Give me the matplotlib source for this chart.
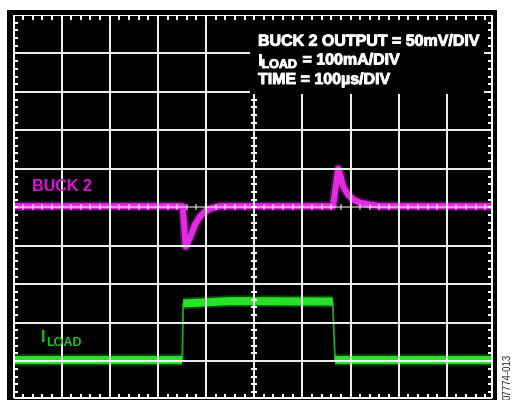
import matplotlib
matplotlib.use('Agg')
import matplotlib.pyplot as plt
from matplotlib.patches import Rectangle
from matplotlib.collections import LineCollection
from matplotlib.font_manager import FontProperties
import matplotlib.patheffects as pe
import numpy as np

# ---------------- data ----------------
# BUCK 2 output deviation (mV) vs time (us); 50 mV/div, trace reference at centre line
buck2_time_us = [1, 351.5, 357.8, 366.7, 377.1, 387.5, 397.8, 411.7, 429,
                 663.6, 674.6, 685, 695.4, 705.8, 719.7, 740.4, 761.2, 993]
buck2_mv = [1.5, 1.5, -51, -39.4, -22.5, -12, -5.6, -1, 1.5,
            1.5, 50.3, 27, 15.9, 10, 6.1, 3.5, 1.5, 1.5]

# Load current (mA) vs time (us); 100 mA/div, reference at bottom graticule line
load_time_us = [1, 350.7, 352.5, 450, 663, 667.8, 993]
load_ma = [103, 103, 250, 256, 255, 103, 103]

box_lines = ["BUCK 2 OUTPUT = 50mV/DIV", "= 100mA/DIV", "TIME = 100\u00b5s/DIV"]
buck_label = "BUCK 2"
figure_id = "07774-013"

# ---------------- figure ----------------
W, H = 517, 400
fig = plt.figure(figsize=(W / 100, H / 100), dpi=100)
fig.patch.set_facecolor('white')

def fx(px):
    return px / W

def fy(py):
    return 1 - py / H

# black outer frame of the scope screenshot
fig.patches.append(Rectangle((fx(7.3), 0), fx(497) - fx(7.3), fy(10), transform=fig.transFigure,
                             facecolor='black', edgecolor='none', zorder=-10))

gl, gr, gt, gb = 13.4, 495.0, 15.0, 399.6   # graticule extent in pixels (10 x 10 divisions)
pos = [fx(gl), fy(gb), fx(gr) - fx(gl), fy(gt) - fy(gb)]

MAG = '#E42AE4'
GRN = '#27E327'

# buck trace axis (mV)
ax = fig.add_axes(pos, zorder=1)
ax.set_xlim(0, 1000)
ax.set_ylim(-250, 250)
ax.set_axis_off()
ax.plot(buck2_time_us, buck2_mv, color=MAG, lw=7.0, alpha=0.3, solid_joinstyle='round',
        solid_capstyle='butt')
ax.plot(buck2_time_us, buck2_mv, color=MAG, lw=4.4, solid_joinstyle='round', solid_capstyle='butt')

# load current axis (mA)
axl = fig.add_axes(pos, zorder=2)
axl.set_xlim(0, 1000)
axl.set_ylim(0, 1000)
axl.set_axis_off()
axl.patch.set_alpha(0)
# thin full trace (edges), thick on the flat levels
axl.plot(load_time_us, load_ma, color='#1FA81F', lw=1.3)
lt = np.array(load_time_us, dtype=float)
lm = np.array(load_ma, dtype=float)
breaks = np.where(np.abs(np.diff(lm)) > 50)[0]
starts = np.concatenate([[0], breaks + 1])
ends = np.concatenate([breaks, [len(lm) - 1]])
for s, e in zip(starts, ends):
    axl.plot(lt[s:e + 1], lm[s:e + 1], color=GRN, lw=8.4, alpha=0.3, solid_capstyle='butt')
    axl.plot(lt[s:e + 1], lm[s:e + 1], color=GRN, lw=5.8, solid_capstyle='butt')

# ---------------- graticule ----------------
ag = fig.add_axes(pos, zorder=3)
ag.set_xlim(0, 10)
ag.set_ylim(0, 10)
ag.set_axis_off()
ag.patch.set_alpha(0)
dx = 48.16   # px per division (x)
dy = 38.46   # px per division (y)
lwpt = 2.0 * 0.72

xl, xr = (14 - gl) / dx, (492 - gl) / dx
yb, ytop = (gb - 398) / dy, 10.0

segs = []
for i in range(1, 10):
    if i != 5:
        segs.append([(i, yb), (i, ytop)])
        segs.append([(xl, i), (xr, i)])
ag.add_collection(LineCollection(segs, colors='white', linewidths=lwpt, alpha=0.92, zorder=2))

# text box (covers graticule)
bx0, bx1 = (250 - gl) / dx, (484 - gl) / dx
by0, by1 = (gb - 94) / dy, (gb - 20) / dy
ag.add_patch(Rectangle((bx0, by0), bx1 - bx0, by1 - by0, facecolor='black', edgecolor='none', zorder=3))

# border + minor ticks
border = [[(xl, yb), (xl, ytop)], [(xr, yb), (xr, ytop)], [(xl, ytop), (xr, ytop)], [(xl, yb), (xr, yb)]]
ticks = []
cticks = []
minor = np.arange(0.2, 10, 0.2)
for m in minor:
    if m < xr:
        ticks.append([(m, ytop), (m, ytop - 5 / dy)])
        ticks.append([(m, yb), (m, yb + 4 / dy)])
        cticks.append([(m, 5 - 3 / dy), (m, 5 + 3 / dy)])
    ticks.append([(xl, m), (xl + 4 / dx, m)])
    ticks.append([(xr, m), (xr - 4 / dx, m)])
    if m < by0 - 0.05:
        ticks.append([(5 - 3 / dx, m), (5 + 3 / dx, m)])
ag.add_collection(LineCollection(border + ticks, colors='white', linewidths=lwpt, zorder=4))
# centre lines (tick-carrying axes)
ag.add_collection(LineCollection([[(xl, 5), (xr, 5)]] + cticks, colors='white', linewidths=lwpt,
                                 alpha=0.5, zorder=4))
ag.add_collection(LineCollection([[(5, yb), (5, by0)]], colors='white', linewidths=lwpt, alpha=0.92, zorder=4))

# ---------------- texts ----------------
FAM = ['Liberation Sans', 'DejaVu Sans']

def fp(size):
    return FontProperties(family=FAM, weight='bold', size=size)

fs = 11.5
kw = dict(ha='left', va='baseline', zorder=10)
bold_w = [pe.withStroke(linewidth=0.7, foreground='white')]
fig.text(fx(258.0), fy(45.7), box_lines[0], color='white', fontproperties=fp(fs), path_effects=bold_w, **kw)
fig.text(fx(257.5), fy(64.5), "I", color='white', fontproperties=fp(fs), path_effects=bold_w, **kw)
fig.text(fx(261.5), fy(68.0), "LOAD", color='white', fontproperties=fp(9.0), path_effects=bold_w, **kw)
fig.text(fx(302.5), fy(64.5), box_lines[1], color='white', fontproperties=fp(fs), path_effects=bold_w, **kw)
fig.text(fx(258.0), fy(84.0), box_lines[2], color='white', fontproperties=fp(fs), path_effects=bold_w, **kw)

fig.text(fx(32.5), fy(190.7), buck_label, color='#DD10DD', fontproperties=fp(fs), **kw)
fig.text(fx(41.0), fy(341.5), "I", color='#12C812', fontproperties=fp(fs), **kw)
fig.text(fx(45.8), fy(345.5), "LOAD", color='#12C812', fontproperties=fp(9.0), **kw)

fig.text(fx(508), fy(399.5), figure_id, color='#222222', fontsize=7.0, family=FAM,
         rotation=90, ha='center', va='bottom', zorder=10)

fig.savefig('out.png', dpi=100, facecolor='white')
